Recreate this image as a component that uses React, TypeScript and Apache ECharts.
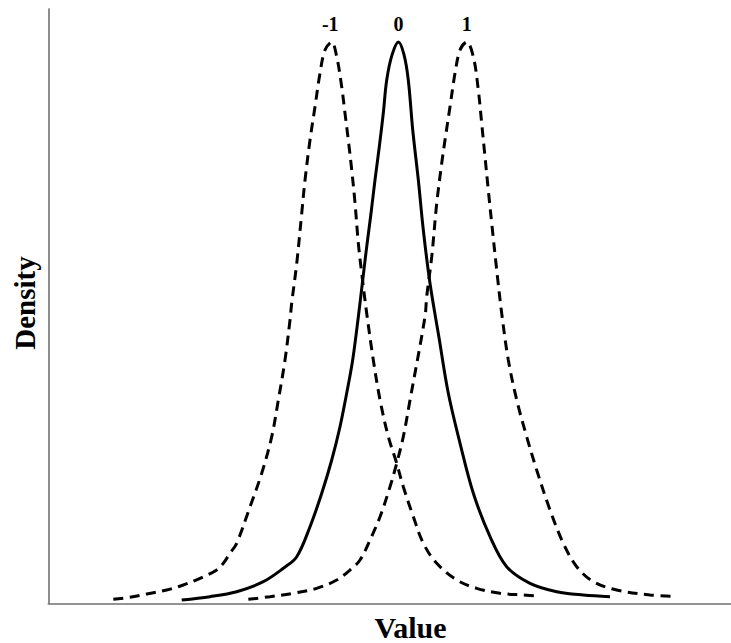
import React, { useEffect, useRef } from "react";
import * as echarts from "echarts";

// Density curves: [value, relative density]
const curveMinus1: [number, number][] = [
  [-4.231, 0.0071], [-3.984, 0.0107], [-3.736, 0.0166], [-3.439, 0.0237], [-3.193, 0.0326],
  [-2.945, 0.0445], [-2.697, 0.0593], [-2.599, 0.0713], [-2.5, 0.0891], [-2.401, 0.1069],
  [-2.203, 0.1721], [-2.03, 0.2316], [-1.881, 0.2968], [-1.783, 0.3622], [-1.684, 0.4335],
  [-1.61, 0.5047], [-1.585, 0.5345], [-1.51, 0.6057], [-1.436, 0.6948], [-1.387, 0.7541],
  [-1.313, 0.8254], [-1.239, 0.8847], [-1.165, 0.9442], [-1.091, 0.9857], [-0.991, 1.0],
  [-0.917, 0.9738], [-0.843, 0.9204], [-0.794, 0.873], [-0.745, 0.8254], [-0.694, 0.772],
  [-0.645, 0.7126], [-0.596, 0.6414], [-0.546, 0.5879], [-0.472, 0.5167], [-0.374, 0.4335],
  [-0.274, 0.3622], [-0.151, 0.2968], [-0.027, 0.2494], [0.071, 0.2077], [0.22, 0.1543],
  [0.368, 0.1069], [0.567, 0.0713], [0.864, 0.0415], [1.16, 0.0267], [1.506, 0.0178],
  [1.852, 0.0148], [2.099, 0.013],
];

const curveZero: [number, number][] = [
  [-3.217, 0.0059], [-2.797, 0.0118], [-2.401, 0.0207], [-2.006, 0.0385], [-1.709, 0.0624],
  [-1.51, 0.083], [-1.313, 0.1365], [-1.139, 0.196], [-0.991, 0.2553], [-0.868, 0.3146],
  [-0.769, 0.3741], [-0.68, 0.4335], [-0.596, 0.5106], [-0.531, 0.576], [-0.472, 0.6353],
  [-0.408, 0.6948], [-0.349, 0.7541], [-0.285, 0.8135], [-0.226, 0.873], [-0.175, 0.9323],
  [-0.096, 0.977], [0.0, 1.0], [0.082, 0.977], [0.145, 0.9323], [0.211, 0.8432],
  [0.294, 0.7541], [0.368, 0.6651], [0.467, 0.5701], [0.6, 0.474],
  [0.739, 0.3741], [0.913, 0.2851], [1.11, 0.196], [1.358, 0.1187], [1.605, 0.0652],
  [1.951, 0.0356], [2.347, 0.0207], [2.742, 0.0148], [3.138, 0.0118],
];

const curvePlus1: [number, number][] = [
  [-2.228, 0.0071], [-1.907, 0.0118], [-1.561, 0.0178], [-1.214, 0.0267], [-0.917, 0.0415],
  [-0.72, 0.0593], [-0.571, 0.0771], [-0.423, 0.1128], [-0.274, 0.1543], [-0.126, 0.2077],
  [-0.027, 0.2494], [0.071, 0.2968], [0.171, 0.3622], [0.393, 0.5106], [0.418, 0.5462],
  [0.493, 0.6175], [0.567, 0.7126], [0.641, 0.7839], [0.69, 0.8254], [0.764, 0.8847],
  [0.838, 0.9442], [0.913, 0.9857], [1.012, 1.0], [1.11, 0.9738], [1.184, 0.9144],
  [1.234, 0.8552], [1.283, 0.7957], [1.332, 0.7363], [1.383, 0.677], [1.457, 0.5938],
  [1.531, 0.5167], [1.629, 0.4335], [1.754, 0.3622], [1.902, 0.2968], [2.05, 0.2375],
  [2.248, 0.1662], [2.445, 0.1069], [2.644, 0.0652], [2.89, 0.0385], [3.237, 0.0237],
  [3.731, 0.0148], [4.117, 0.0125],
];

const peakLabels = ["-1", "0", "1"];
const peakPositions: [number, number][] = [[-0.991, 1.0], [0.0, 1.0], [1.012, 1.0]];

const xAxisName = "Value";
const yAxisName = "Density";

const xMin = -5.196;
const xMax = 4.933;
const yMin = 0;
const yMax = 1.0588;

export default function App() {
  const ref = useRef<HTMLDivElement>(null);

  useEffect(() => {
    if (!ref.current) return;
    const chart = echarts.init(ref.current, undefined, { renderer: "svg" });
    const font = "'Liberation Serif', 'Times New Roman', serif";
    const axisLine = { show: true, onZero: false, lineStyle: { color: "#707070", width: 1.6 } };
    const lineCommon = {
      type: "line" as const,
      showSymbol: false,
      symbol: "none",
      smooth: 0.35,
      silent: true,
    };
    chart.setOption({
      animation: false,
      backgroundColor: "#ffffff",
      grid: { left: 48.3, right: 0, top: 9, bottom: 39.7, containLabel: false, outerBoundsMode: "none" },
      xAxis: {
        type: "value",
        min: xMin,
        max: xMax,
        axisLine,
        axisTick: { show: false },
        axisLabel: { show: false },
        splitLine: { show: false },
      },
      yAxis: {
        type: "value",
        min: yMin,
        max: yMax,
        axisLine,
        axisTick: { show: false },
        axisLabel: { show: false },
        splitLine: { show: false },
      },
      series: [
        {
          ...lineCommon,
          name: "-1",
          data: curveMinus1,
          lineStyle: { color: "#000", width: 3, type: [10, 6.5], cap: "butt" },
        },
        {
          ...lineCommon,
          name: "0",
          data: curveZero,
          lineStyle: { color: "#000", width: 3, type: "solid" },
        },
        {
          ...lineCommon,
          name: "1",
          data: curvePlus1,
          lineStyle: { color: "#000", width: 3, type: [10, 6.5], cap: "butt" },
        },
      ],
      graphic: [
        {
          id: "xname",
          type: "text",
          x: 410.5,
          y: 627,
          style: {
            text: xAxisName,
            fill: "#000",
            fontFamily: font,
            fontWeight: "bold",
            fontSize: 30,
            align: "center",
            verticalAlign: "middle",
          },
        },
        {
          id: "yname",
          type: "text",
          x: 25,
          y: 303,
          rotation: Math.PI / 2,
          style: {
            text: yAxisName,
            fill: "#000",
            fontFamily: font,
            fontWeight: "bold",
            fontSize: 29,
            align: "center",
            verticalAlign: "middle",
          },
        },
      ],
    });
    const peakTexts = peakPositions.map((p, i) => {
      const [px, py] = chart.convertToPixel({ gridIndex: 0 }, p) as number[];
      return {
        id: "peak" + i,
        type: "text",
        x: px - (peakLabels[i].startsWith("-") ? 1.5 : 0),
        y: py - 18,
        style: {
          text: peakLabels[i],
          fill: "#000",
          fontFamily: font,
          fontWeight: "bold",
          fontSize: 20,
          align: "center",
          verticalAlign: "middle",
        },
      };
    });
    chart.setOption({ graphic: peakTexts });
    return () => chart.dispose();
  }, []);

  return (
    <div
      ref={ref}
      style={{ position: "fixed", left: 0, top: 0, width: 731, height: 643 }}
    />
  );
}
